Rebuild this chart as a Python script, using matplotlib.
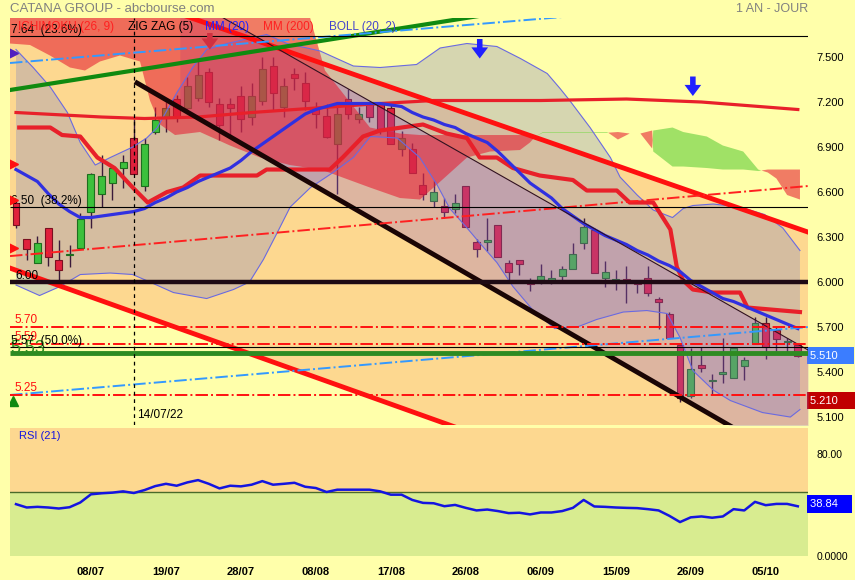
import numpy as np
import matplotlib
matplotlib.use("Agg")
import matplotlib.pyplot as plt
from matplotlib.transforms import blended_transform_factory

plt.rcParams['font.family'] = ['Liberation Sans', 'DejaVu Sans']
NARROW = ['Liberation Sans Narrow', 'Liberation Sans', 'DejaVu Sans']

# ---- data (x = trading-day index, 29/06 = 0) ----
opens = [6.53, 6.29, 6.13, 6.36, 6.15, 6.18, 6.23, 6.47, 6.59, 6.66,
         6.76, 6.96, 6.64, 7.00, 7.10, 7.22, 7.16, 7.23, 7.40, 7.19,
         7.19, 7.24, 7.10, 7.21, 7.44, 7.17, 7.39, 7.33, 7.17, 7.11,
         6.92, 7.22, 7.09, 7.19, 7.19, 7.16, 6.89, 6.89, 6.65, 6.54,
         6.51, 6.49, 6.64, 6.27, 6.27, 6.38, 6.13, 6.15, 6.00, 6.00,
         6.00, 6.04, 6.09, 6.26, 6.35, 6.03, 6.00, 6.02, 6.00, 6.03,
         5.89, 5.79, 5.58, 5.24, 5.45, 5.34, 5.39, 5.36, 5.44, 5.59,
         5.73, 5.68, 5.60, 5.58]
highs = [6.54, 6.29, 6.31, 6.36, 6.28, 6.25, 6.46, 6.73, 6.85, 6.78,
         6.85, 7.09, 6.96, 7.17, 7.20, 7.25, 7.37, 7.48, 7.43, 7.23,
         7.23, 7.31, 7.33, 7.50, 7.50, 7.36, 7.43, 7.40, 7.20, 7.19,
         7.19, 7.29, 7.17, 7.20, 7.20, 7.18, 7.01, 6.93, 6.73, 6.68,
         6.56, 6.59, 6.64, 6.29, 6.43, 6.38, 6.15, 6.15, 6.03, 6.12,
         6.08, 6.11, 6.26, 6.43, 6.36, 6.14, 6.08, 6.11, 6.01, 6.11,
         5.90, 5.80, 5.59, 5.56, 5.57, 5.39, 5.63, 5.57, 5.50, 5.77,
         5.77, 5.70, 5.63, 5.59]
lows = [6.36, 6.15, 6.13, 6.11, 6.01, 6.10, 6.23, 6.36, 6.50, 6.55,
        6.63, 6.72, 6.61, 6.99, 7.00, 7.07, 7.14, 7.21, 7.17, 6.95,
        6.96, 7.00, 7.05, 7.18, 7.15, 7.10, 7.28, 7.15, 7.03, 6.96,
        6.59, 7.09, 7.06, 7.07, 6.99, 6.92, 6.84, 6.73, 6.55, 6.50,
        6.43, 6.46, 6.37, 6.17, 6.21, 6.17, 6.01, 6.05, 5.94, 5.99,
        5.99, 6.00, 6.09, 6.22, 6.06, 5.97, 5.95, 5.86, 5.93, 5.91,
        5.69, 5.63, 5.20, 5.23, 5.40, 5.25, 5.33, 5.36, 5.35, 5.59,
        5.49, 5.54, 5.53, 5.50]
closes = [6.38, 6.22, 6.26, 6.17, 6.08, 6.18, 6.42, 6.72, 6.71, 6.76,
          6.80, 6.72, 6.92, 7.08, 7.16, 7.10, 7.31, 7.38, 7.20, 7.05,
          7.16, 7.09, 7.24, 7.42, 7.26, 7.31, 7.36, 7.21, 7.12, 6.97,
          7.12, 7.12, 7.12, 7.10, 7.01, 6.92, 6.96, 6.73, 6.59, 6.60,
          6.47, 6.53, 6.37, 6.22, 6.27, 6.17, 6.07, 6.12, 5.99, 6.04,
          6.03, 6.09, 6.19, 6.37, 6.06, 6.07, 6.02, 6.00, 5.99, 5.93,
          5.87, 5.63, 5.23, 5.42, 5.43, 5.35, 5.39, 5.56, 5.48, 5.73,
          5.57, 5.62, 5.61, 5.51]

mm20 = [6.75, 6.71, 6.67, 6.59, 6.52, 6.47, 6.43, 6.43, 6.44, 6.45,
        6.46, 6.47, 6.49, 6.53, 6.56, 6.60, 6.63, 6.67, 6.70, 6.73,
        6.76, 6.81, 6.87, 6.92, 6.97, 7.02, 7.07, 7.12, 7.15, 7.17,
        7.19, 7.19, 7.19, 7.19, 7.19, 7.18, 7.17, 7.13, 7.10, 7.08,
        7.05, 7.03, 6.99, 6.96, 6.93, 6.87, 6.80, 6.73, 6.66, 6.61,
        6.56, 6.49, 6.44, 6.39, 6.35, 6.31, 6.28, 6.25, 6.21, 6.18,
        6.14, 6.11, 6.07, 6.01, 5.97, 5.93, 5.89, 5.87, 5.84, 5.81,
        5.78, 5.75, 5.72, 5.69]

mm200_x = [0, 8, 12, 17, 22, 26, 34, 39, 49, 57, 64, 73]
mm200 = [7.13, 7.10, 7.09, 7.10, 7.13, 7.15, 7.19, 7.21, 7.21, 7.22, 7.20, 7.15]

kijun_x = [0.3, 3.2, 4.3, 6.0, 7.6, 9.2, 10.9, 12.3, 14.1, 15.6, 17.2, 22.5,
           23.4, 29.3, 30.5, 32.4, 34.0, 38.0, 40.2, 42.1, 43.3, 44.9, 46.4,
           48.9, 52.0, 53.3, 56.1, 57.3, 59.5, 61.1, 61.7, 62.3, 63.2, 65.1,
           67.6, 68.3, 73.2]
kijun = [7.03, 7.03, 6.98, 6.97, 6.83, 6.76, 6.63, 6.53, 6.60, 6.63, 6.71, 6.71,
         6.75, 6.75, 6.83, 6.97, 7.01, 7.05, 6.99, 6.96, 6.83, 6.83, 6.76,
         6.71, 6.68, 6.61, 6.61, 6.53, 6.53, 6.35, 6.10, 6.01, 5.95, 5.93,
         5.93, 5.83, 5.80]

boll_up_x = [0, 1.6, 3.2, 4.8, 6.0, 7.4, 8.8, 10.9, 12.2, 13.2, 15.0, 16.5, 17.8,
             19.7, 23.4, 25.3, 28.4, 31.5, 34.0, 37.4, 39.6, 42.1, 44.9, 47.1,
             49.6, 50.8, 51.7, 53.6, 55.5, 56.4, 58.0, 59.5, 61.3, 62.3, 63.2,
             65.1, 67.6, 69.9, 71.6, 73.2]
boll_up = [7.55, 7.43, 7.30, 7.13, 6.93, 6.78, 6.83, 6.90, 6.96, 7.03, 7.26, 7.43, 7.55,
           7.59, 7.65, 7.59, 7.54, 7.44, 7.43, 7.45, 7.56, 7.59, 7.57, 7.49,
           7.39, 7.29, 7.21, 7.03, 6.83, 6.70, 6.58, 6.48, 6.43, 6.49, 6.51,
           6.52, 6.50, 6.45, 6.36, 6.21]
boll_low_x = [0, 2.2, 4.1, 6.0, 8.8, 10.9, 12.5, 14.7, 17.8, 20.3, 21.8, 23.1, 24.4,
              25.6, 27.5, 29.6, 31.5, 33.1, 35.6, 37.7, 39.3, 40.5, 42.0, 43.3,
              44.9, 46.4, 48.3, 50.3, 52.4, 54.2, 56.7, 58.9, 60.8, 62.0, 63.2,
              65.1, 66.7, 69.7, 72.3, 73.2]
boll_low = [5.98, 5.91, 5.97, 6.05, 6.06, 6.05, 6.00, 5.93, 5.89, 5.95, 6.00, 6.15, 6.33,
            6.50, 6.63, 6.73, 6.83, 6.97, 6.96, 6.83, 6.65, 6.49, 6.37, 6.26,
            6.13, 5.97, 5.81, 5.69, 5.70, 5.75, 5.80, 5.81, 5.79, 5.63, 5.41,
            5.28, 5.21, 5.13, 5.10, 5.15]

cloud_x = [-0.56, 1.31, 3.17, 5.04, 6.44, 7.84, 9.71, 11.58, 12.51, 13.45, 14.85,
           17.18, 19.98, 22.78, 25.58, 26.52, 28.85, 33.05, 35.85, 37.72, 39.31,
           42.11, 44.26, 47.06, 47.99, 48.5, 49.2, 55.2, 56.2, 57.3, 58.3, 59.4,
           59.5, 61.3, 62.3, 64.5, 66.0, 67.9, 69.3, 70.2, 71.0, 72.0, 73.2]
span_a = [7.59, 7.58, 7.51, 7.43, 7.41, 7.47, 7.51, 7.47, 7.21, 7.05, 6.98,
          7.00, 6.91, 6.83, 6.78, 6.77, 6.74, 6.63, 6.56, 6.55, 6.65,
          6.83, 6.87, 6.88, 6.93, 6.97, 7.00, 7.00, 6.95, 6.99, 6.99, 6.89,
          7.01, 7.03, 7.00, 6.97, 6.91, 6.87, 6.75, 6.73, 6.69, 6.58, 6.55]
span_b = [8.00, 8.00, 8.00, 8.00, 8.00, 8.00, 8.00, 8.00, 8.00, 8.00, 8.00,
          8.00, 8.00, 8.00, 8.00, 8.00, 7.41, 7.03, 6.99, 6.98, 6.98,
          6.98, 6.98, 6.98, 6.98, 6.97, 6.995, 6.995, 7.00, 6.99, 6.99, 7.01,
          6.87, 6.77, 6.77, 6.76, 6.75, 6.75, 6.74, 6.75, 6.75, 6.75, 6.75]

rsi = [40.5, 37.9, 38.4, 37.9, 37.1, 38.1, 41.8, 48.2, 49.0, 49.5,
       50.5, 49.2, 51.5, 54.6, 56.4, 54.9, 57.5, 59.3, 56.4, 52.8,
       54.9, 54.4, 55.7, 58.5, 55.7, 56.4, 57.2, 54.1, 53.1, 50.0,
       51.8, 51.8, 51.8, 51.8, 50.5, 47.9, 47.9, 43.8, 41.5, 41.2,
       38.9, 39.9, 37.6, 35.6, 36.3, 35.1, 33.5, 33.8, 32.5, 34.0,
       34.0, 35.1, 37.6, 43.8, 38.7, 38.4, 37.9, 37.6, 37.4, 36.6,
       35.6, 31.4, 26.5, 30.2, 30.9, 29.9, 30.9, 36.6, 35.6, 42.3,
       39.7, 40.7, 40.7, 38.84]

date_pos = [7, 14, 21, 28, 35, 42, 49, 56, 63, 70]
date_labels = ['08/07', '19/07', '28/07', '08/08', '17/08', '26/08',
               '06/09', '15/09', '26/09', '05/10']
price_ticks = [7.5, 7.2, 6.9, 6.6, 6.3, 6.0, 5.7, 5.4, 5.1]

# trend lines / channels (x index, price)
red_chan_x = [-0.56, 73.95]
red_chan_top = [8.18, 6.333]
red_chan_bot = [6.093, 4.193]
zz_chan_x = [15.3, 73.95]
zz_chan_top = [7.925, 5.547]
zz_chan_bot = [7.162, 4.741]
zz_line_x = [11.3, 73.95]
zz_line = [7.327, 4.741]
green_x = [-0.56, 50.0]
green_line = [7.28, 7.85]
blue_up_x = [-0.56, 60.0]
blue_up = [7.46, 7.82]
blue_low_x = [-0.56, 73.95]
blue_low = [5.247, 5.70]
red_mid_x = [-0.56, 73.95]
red_mid = [6.173, 6.64]

fib_levels = [7.64, 6.50, 5.57]
fib_labels = ['7.64  (23.6%)', '6.50  (38.2%)', '5.57  (50.0%)']
red_levels = [5.70, 5.59, 5.25]
support = 6.00
green_level = 5.53

BG = '#FFFFAA'
x = np.arange(len(closes))
o, h, l, c = map(np.array, (opens, highs, lows, closes))

fig = plt.figure(figsize=(8.55, 5.8), dpi=100, facecolor=BG)
ax = fig.add_axes([10 / 855, 155 / 580, 798 / 855, 407 / 580], facecolor=BG)
ax2 = fig.add_axes([10 / 855, 24 / 580, 798 / 855, 128 / 580], facecolor=BG)
for a in (ax, ax2):
    a.set_xlim(-0.56, 73.95)
    for s in a.spines.values():
        s.set_visible(False)
ax.set_ylim(5.047, 7.76)

# fills
ax.fill_between(red_chan_x, red_chan_bot, red_chan_top, color='#FDD890', lw=0, zorder=1)
ax.fill(np.r_[boll_up_x, boll_low_x[::-1]], np.r_[boll_up, boll_low[::-1]],
        color='#8C8CBE', alpha=0.35, lw=0, zorder=2)

# candles
up = c >= o
body_col = np.where(up, '#3CC03C', '#E0203C')
edge_col = np.where(up, '#1E6E1E', '#7A1020')
ax.vlines(x, l, h, color='#3A1A3A', lw=1, zorder=3)
ax.bar(x, np.maximum(np.abs(c - o), 0.008), bottom=np.minimum(o, c), width=0.65,
       color=body_col, edgecolor=edge_col, linewidth=0.8, zorder=3.5)

ax.fill_between(zz_chan_x, zz_chan_bot, zz_chan_top, color='#9664C8', alpha=0.3, lw=0, zorder=4)
sa, sb = np.array(span_a), np.array(span_b)
ax.fill_between(cloud_x, sa, sb, where=sa >= sb, interpolate=True,
                color='#80D850', alpha=0.75, lw=0, zorder=5)
ax.fill_between(cloud_x, sa, sb, where=sa < sb, interpolate=True,
                color='#E61E32', alpha=0.58, lw=0, zorder=5)

# indicator lines
ax.plot(boll_up_x, boll_up, color='#6A6AE0', lw=0.8, zorder=6)
ax.plot(boll_low_x, boll_low, color='#6A6AE0', lw=0.8, zorder=6)
ax.plot(mm200_x, mm200, color='#E8202A', lw=2.3, zorder=7)
ax.plot(kijun_x, kijun, color='#E8202A', lw=3, zorder=7)
ax.plot(x, mm20, color='#3030E0', lw=2.3, zorder=8)

# trend lines
ax.plot(red_chan_x, red_chan_top, color='#FF1010', lw=3.5, zorder=9)
ax.plot(red_chan_x, red_chan_bot, color='#FF1010', lw=3.5, zorder=9)
ax.plot(zz_chan_x, zz_chan_top, color='#301020', lw=0.8, zorder=9)
ax.plot(zz_line_x, zz_line, color='#1A0505', lw=3.5, zorder=9)
ax.plot(green_x, green_line, color='#108A10', lw=3, zorder=9)
ax.plot(blue_up_x, blue_up, color='#3399FF', lw=1.4, ls='-.', zorder=9)
ax.plot(blue_low_x, blue_low, color='#3399FF', lw=1.4, ls='-.', zorder=9)
ax.plot(red_mid_x, red_mid, color='#FF2020', lw=1.4, ls='-.', zorder=9)

# horizontal levels
ax.hlines(fib_levels, -0.56, 73.95, color='black', lw=0.8, zorder=10)
ax.hlines(support, -0.56, 73.95, color='#1E0A14', lw=3.2, zorder=10)
ax.hlines(red_levels, -0.56, 73.95, color='#FF1010', lw=1.4, linestyles='-.', zorder=10)
ax.hlines(green_level, -0.56, 73.95, color='#2E8B22', lw=3.5, zorder=10)
ax.axvline(11, color='black', lw=0.9, ls=(0, (3, 3)), zorder=10)

for lv, lab in zip(fib_levels, fib_labels):
    ax.text(-0.5, lv, lab, fontsize=8.5, va='bottom', ha='left', zorder=12)
for lv in red_levels:
    ax.text(-0.1, lv + 0.005, f'{lv:.2f}', fontsize=8.5, color='#FF1010',
            va='bottom', ha='left', zorder=11)
ax.text(-0.1, support, f'{support:.2f}', fontsize=8.5, va='bottom', ha='left', zorder=12)
ax.text(-0.55, green_level + 0.03, f'{green_level:.2f}', fontsize=13, color='#2E8B22',
        va='center', ha='left', zorder=11)
ax.text(11.3, 5.113, '14/07/22', fontsize=8.5, va='center', ha='left', zorder=12)

# arrows / markers
for ax_x, top, tip in [(43.3, 7.62, 7.49), (63.2, 7.37, 7.24)]:
    ax.annotate('', xy=(ax_x, tip), xytext=(ax_x, top), zorder=12,
                arrowprops=dict(facecolor='#2020FF', edgecolor='none',
                                width=4, headwidth=12, headlength=8))
ax.annotate('', xy=(18.1, 7.55), xytext=(18.1, 7.66), zorder=12,
            arrowprops=dict(facecolor='#D03040', edgecolor='none',
                            width=4, headwidth=12, headlength=8))
ax.plot([-0.3] * 3, [6.79, 6.55, 6.23], ls='none', marker='>', ms=7, color='#FF1010', zorder=12)
ax.plot([-0.3], [7.53], ls='none', marker='>', ms=7, color='#5020C0', zorder=12)
ax.plot([-0.3], [5.21], ls='none', marker='^', ms=7, color='#108A10', zorder=12)

# right axis
ax.set_xticks([])
ax.yaxis.tick_right()
ax.set_yticks(price_ticks)
ax.set_yticklabels([f'{p:.3f}' for p in price_ticks])
ax.tick_params(axis='y', length=0, pad=6, labelsize=8)
tr = blended_transform_factory(ax.transAxes, ax.transData)
ax.text(1.003, closes[-1], f'{closes[-1]:.3f}    ', transform=tr, color='white', fontsize=8,
        va='center', ha='left', clip_on=False,
        bbox=dict(boxstyle='square,pad=0.35', fc='#3B7DFF', ec='none'))
ax.text(1.003, lows[62] + 0.01, f'{lows[62] + 0.01:.3f}    ', transform=tr, color='white',
        fontsize=8, va='center', ha='left', clip_on=False,
        bbox=dict(boxstyle='square,pad=0.35', fc='#C00000', ec='none'))

# RSI panel
ax2.set_ylim(0, 100)
ax2.axhspan(50, 100, color='#FDD890', lw=0, zorder=0)
ax2.axhspan(0, 50, color='#D8EC90', lw=0, zorder=0)
ax2.axhline(50, color='#4A6A2A', lw=1, zorder=1)
ax2.plot(x, rsi, color='#1414E0', lw=1.8, zorder=3)
ax2.text(0.3, 98, 'RSI (21)', color='#1414E0', fontsize=8, family=NARROW, va='top')
ax2.yaxis.tick_right()
ax2.set_yticks([80, 0])
ax2.set_yticklabels(['80.00', '0.0000'], family=NARROW)
ax2.tick_params(axis='y', length=0, pad=6, labelsize=7.5)
ax2.set_xticks(date_pos)
ax2.set_xticklabels(date_labels, family=NARROW, fontweight='bold')
ax2.tick_params(axis='x', length=0, pad=8, labelsize=8)
tr2 = blended_transform_factory(ax2.transAxes, ax2.transData)
ax2.text(1.003, rsi[-1] + 2, f'{rsi[-1]:.2f}   ', transform=tr2, color='white', fontsize=8,
         family=NARROW, va='center', ha='left', clip_on=False,
         bbox=dict(boxstyle='square,pad=0.35', fc='#0000FF', ec='none'))

# header / legend
fig.text(10 / 855, 1 - 9 / 580, 'CATANA GROUP - abcbourse.com', color='#808080',
         fontsize=9.5, va='center', ha='left')
fig.text(808 / 855, 1 - 9 / 580, '1 AN - JOUR', color='#808080', fontsize=9,
         va='center', ha='right')
legend = [(18, 'ICHIMOKU (26, 9)', '#FF2020'), (128, 'ZIG ZAG (5)', 'black'),
          (205, 'MM (20)', '#2020FF'), (263, 'MM (200)', '#FF2020'),
          (329, 'BOLL (20, 2)', '#4444CC')]
for px, txt, col in legend:
    fig.text(px / 855, 1 - 27 / 580, txt, color=col, fontsize=8.5, va='center',
             ha='left', zorder=20)

fig.savefig('out.png', dpi=100, facecolor=BG)
